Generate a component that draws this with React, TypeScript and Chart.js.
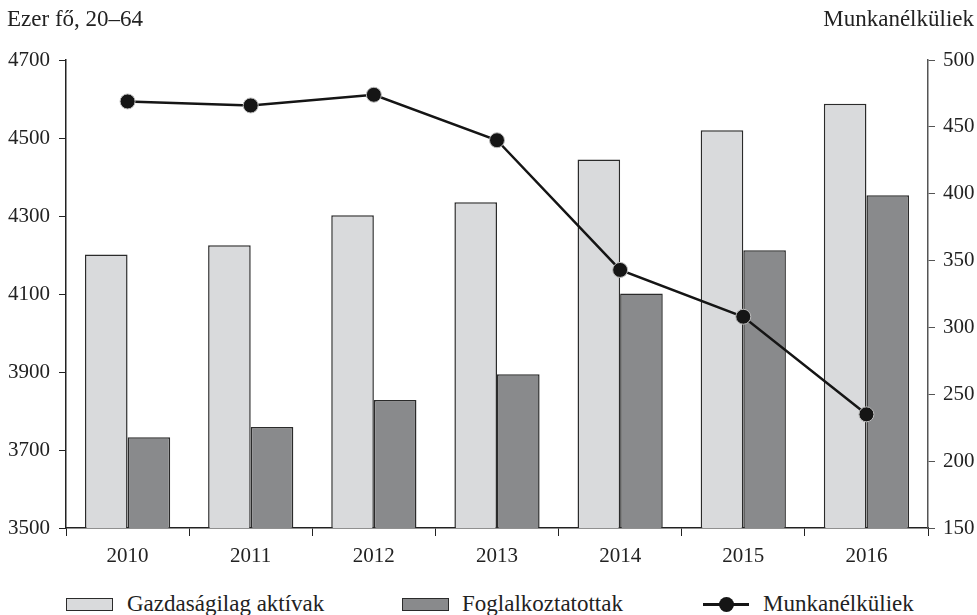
import React, { useEffect, useRef } from "react";
import { Chart, registerables } from "chart.js";

Chart.register(...registerables);

const years = ["2010", "2011", "2012", "2013", "2014", "2015", "2016"];
const activeValues = [4201, 4225, 4302, 4335, 4445, 4520, 4588];
const employedValues = [3733, 3759, 3828, 3894, 4101, 4212, 4353];
const unemployedValues = [469, 466, 474, 440, 343, 308, 235];
const seriesNames = ["Gazdaságilag aktívak", "Foglalkoztatottak", "Munkanélküliek"];
const leftTitle = "Ezer fő, 20–64";
const rightTitle = "Munkanélküliek";

const FONT = '"Liberation Serif", "Times New Roman", serif';
const LIGHT = "#d9dadc";
const DARK = "#898a8c";
const EDGE = "#2b2b2b";
const TICK_SIZE = 21;

export default function App() {
  const ref = useRef<HTMLCanvasElement | null>(null);

  useEffect(() => {
    document.body.style.margin = "0";
    let chart: Chart | null = null;
    let cancelled = false;
    const build = () => {
      if (cancelled || !ref.current) return;
      const ctx = ref.current.getContext("2d")!;
      chart = new Chart(ctx, {
        type: "bar",
        data: {
          labels: years,
          datasets: [
            {
              type: "line",
              label: seriesNames[2],
              data: unemployedValues,
              yAxisID: "y1",
              borderColor: "#151515",
              borderWidth: 2.5,
              pointRadius: 7.5,
              pointBackgroundColor: "#151515",
              pointBorderColor: "#bdbdbd",
              pointBorderWidth: 1,
              tension: 0,
              order: 0,
            } as any,
            {
              label: seriesNames[0],
              data: activeValues,
              yAxisID: "y",
              backgroundColor: LIGHT,
              borderColor: EDGE,
              borderWidth: 1.5,
              order: 1,
            },
            {
              label: seriesNames[1],
              data: employedValues,
              yAxisID: "y",
              backgroundColor: DARK,
              borderColor: EDGE,
              borderWidth: 1.5,
              order: 1,
            },
          ],
        },
        options: {
          animation: false,
          responsive: false,
          maintainAspectRatio: false,
          layout: { padding: { top: 60, left: 0, right: 0, bottom: 0 } },
          plugins: { legend: { display: false }, tooltip: { enabled: false } },
          datasets: { bar: { categoryPercentage: 0.692, barPercentage: 1 } },
          scales: {
            x: {
              grid: { drawOnChartArea: false, tickLength: 8, color: "#222", offset: true },
              border: { color: "#222", width: 1.5 },
              ticks: { color: "#222", font: { family: FONT, size: TICK_SIZE }, padding: 8 },
              afterFit: (s: any) => { s.height = 42; },
            },
            y: {
              position: "left",
              min: 3500,
              max: 4700,
              grid: { drawOnChartArea: false, tickLength: 7, color: "#222" },
              border: { color: "#222", width: 1.5 },
              ticks: {
                stepSize: 200,
                color: "#222",
                font: { family: FONT, size: TICK_SIZE },
                padding: 9,
                callback: (v: any) => String(v),
              },
              afterFit: (s: any) => { s.width = 66; },
            },
            y1: {
              position: "right",
              min: 150,
              max: 500,
              grid: { drawOnChartArea: false, tickLength: 7, color: "#555" },
              border: { color: "#555", width: 1.5 },
              ticks: {
                stepSize: 50,
                color: "#222",
                font: { family: FONT, size: TICK_SIZE },
                padding: 8,
                callback: (v: any) => String(v),
              },
              afterFit: (s: any) => { s.width = 49; },
            },
          },
        },
      });
    };
    const fonts: any = (document as any).fonts;
    if (fonts && fonts.load) {
      fonts
        .load(`${TICK_SIZE}px "Liberation Serif"`)
        .then(build, build);
    } else {
      build();
    }
    return () => {
      cancelled = true;
      if (chart) chart.destroy();
    };
  }, []);

  const textStyle: React.CSSProperties = {
    position: "absolute",
    fontFamily: FONT,
    fontSize: 23,
    color: "#222",
    whiteSpace: "nowrap",
    lineHeight: "26px",
  };
  const box = (bg: string, left: number): React.CSSProperties => ({
    position: "absolute",
    left,
    top: 598,
    width: 45,
    height: 11,
    background: bg,
    border: `1.5px solid ${EDGE}`,
  });

  return (
    <div style={{ position: "relative", width: 977, height: 615, background: "#fff", overflow: "hidden" }}>
      <canvas ref={ref} width={977} height={570} style={{ position: "absolute", left: 0, top: 0, width: 977, height: 570 }} />
      <div style={{ ...textStyle, left: 7, top: 6 }}>{leftTitle}</div>
      <div style={{ ...textStyle, right: 3, top: 6 }}>{rightTitle}</div>

      <div style={box(LIGHT, 66)} />
      <div style={{ ...textStyle, left: 127, top: 591 }}>{seriesNames[0]}</div>
      <div style={box(DARK, 402)} />
      <div style={{ ...textStyle, left: 462, top: 591 }}>{seriesNames[1]}</div>
      <div style={{ position: "absolute", left: 703, top: 603, width: 46, height: 3, background: "#151515" }} />
      <div style={{ position: "absolute", left: 719, top: 597, width: 15, height: 15, borderRadius: "50%", background: "#151515" }} />
      <div style={{ ...textStyle, left: 763, top: 591 }}>{seriesNames[2]}</div>
    </div>
  );
}
